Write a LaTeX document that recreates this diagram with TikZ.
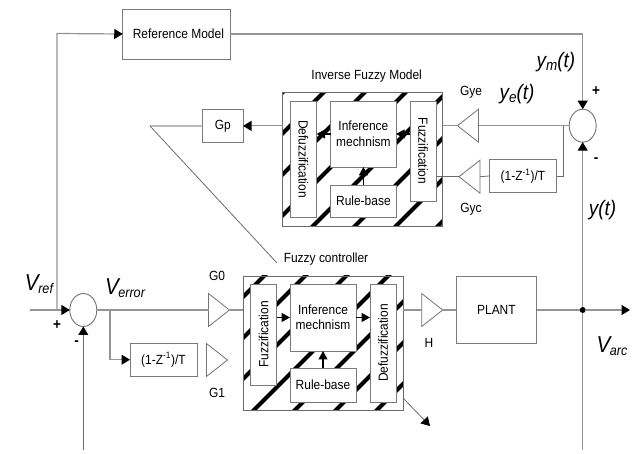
\documentclass[tikz,border=0pt]{standalone}
\usepackage{graphicx}
\usepackage{fontspec}
\setmainfont[FakeStretch=0.9]{Liberation Sans}
\usetikzlibrary{arrows.meta,shapes.geometric,calc}
\newcommand{\VT}[3]{{\fontsize{#3}{#3}\selectfont\itshape #1\kern-0.5pt\raisebox{-3.5pt}{\fontsize{14}{14}\selectfont #2}}}
\tikzset{
  x=1pt,y=-1pt,
  every node/.style={inner sep=0pt,outer sep=0pt},
  txt/.style={font=\fontsize{13.3}{15.5}\selectfont,text=black},
  block/.style={draw=black!52,line width=0.9pt,fill=white,txt,align=center},
  frame/.style={draw=black!58,line width=0.9pt,fill=white},
  sumnode/.style={ellipse,draw=black!55,line width=0.9pt,fill=white,minimum width=27pt,minimum height=33pt},
  gain/.style={isosceles triangle,isosceles triangle apex angle=76,isosceles triangle stretches,draw=black!55,line width=0.8pt,fill=white,minimum width=33pt,minimum height=21pt,anchor=lower side},
  conn/.style={draw=black!42,line width=1.2pt},
  thin conn/.style={draw=black!58,line width=0.8pt},
  tip/.style={-{Triangle[length=8.5pt,width=10pt,fill=black,color=black]}},
  inner arrow/.style={draw=black,line width=1.1pt,-{Triangle[length=8.5pt,width=9pt,fill=black,color=black]}},
  stripe/.style={draw=black,line width=4.2pt},
  bigmath/.style={font=\fontsize{21}{21}\selectfont\itshape},
  sign/.style={font=\fontsize{15}{15}\selectfont\bfseries},
}
\begin{document}
\begin{tikzpicture}
\useasboundingbox (0,0) rectangle (635,454);
% frames and hatching
\node[frame,minimum width=160pt,minimum height=133.4pt] (upper) at (362.7,159.4) {};
\node[frame,minimum width=160pt,minimum height=134pt] (lower) at (323,343) {};
\begin{scope}
\clip (upper.south west) rectangle (upper.north east);
\foreach \s in {375,416,457,498,539,581,622,664,705}
  \draw[stripe] (\s-90,90) -- (\s-230,230);
\end{scope}
\begin{scope}
\clip (lower.south west) rectangle (lower.north east);
\foreach \s in {540,581,622,664,705,746,787}
  \draw[stripe] (\s-270,270) -- (\s-415,415);
\end{scope}
\draw[draw=black!58,line width=0.9pt] (upper.south west) rectangle (upper.north east);
\draw[draw=black!58,line width=0.9pt] (lower.south west) rectangle (lower.north east);
% blocks of the lower frame
\node[block,minimum width=26pt,minimum height=101pt] (fuzL) at (263.7,334.5) {\rotatebox{90}{Fuzzification}};
\node[block,minimum width=66pt,minimum height=67pt] (infL) at (323,317.5) {Inference\\mechnism};
\node[block,minimum width=66pt,minimum height=34pt] (rulL) at (323,385) {Rule-base};
\node[block,minimum width=26pt,minimum height=118pt] (defL) at (383,343) {\rotatebox{90}{Defuzzification}};
% blocks of the upper frame
\node[block,minimum width=26.7pt,minimum height=116pt] (defU) at (303.3,159) {\rotatebox{-90}{Defuzzification}};
\node[block,minimum width=65.3pt,minimum height=66pt] (infU) at (363.4,134) {Inference\\mechnism};
\node[block,minimum width=65.3pt,minimum height=32pt] (rulU) at (363.4,201) {Rule-base};
\node[block,minimum width=26pt,minimum height=100pt] (fuzU) at (423,151) {\rotatebox{-90}{Fuzzification}};
% other blocks
\node[block,minimum width=107.3pt,minimum height=50pt] (refm) at (176.4,34) {\hspace{4pt}Reference Model};
\node[block,minimum width=40.3pt,minimum height=33.6pt] (gp) at (222.9,125.9) {Gp};
\node[block,minimum width=67.7pt,minimum height=33.7pt] (dU) at (522.9,176) {(1-Z\textsuperscript{-1})/T};
\node[block,minimum width=67pt,minimum height=33pt] (dL) at (163.5,359.7) {(1-Z\textsuperscript{-1})/T};
\node[block,minimum width=80.7pt,minimum height=67pt] (plant) at (496.4,309.7) {PLANT};
\node[sumnode] (sumL) at (83.3,310) {};
\node[sumnode] (sumU) at (582.7,125.7) {};
% gains
\node[gain] (g0) at (208.5,310) {};
\node[gain] (g1) at (206.5,360) {};
\node[gain] (h) at (421.7,310) {};
\node[gain,shape border rotate=180] (gye) at (478.5,125.7) {};
\node[gain,shape border rotate=180] (gyc) at (480,176.7) {};
% free ends
\node[circle,fill=black,minimum size=6pt] (dot) at (582.7,310) {};
\coordinate (inL) at (30,310);
\coordinate (tapL) at (57,310);
\coordinate (tapE) at (110,310);
\coordinate (fbL) at (83.3,450);
\coordinate (outR) at (630,310);
\coordinate (downR) at (582.7,450);
\coordinate (tapU) at (563,125.7);
\coordinate (gpEnd) at (150,126);
\coordinate (fcEnd) at (276.7,262.7);
\coordinate (exA) at (403,398);
\coordinate (exB) at (430,426);
% connectors
\draw[conn,tip] (inL) -- (sumL.west);
\draw[conn,tip] (tapL) -- (57,33.5) -- (refm.west);
\draw[thin conn,tip] (fbL) -- (sumL.south);
\draw[conn] (sumL.east) -- (g0.lower side);
\draw[conn,tip] (tapE) |- (dL.west);
\draw[conn] (g0.apex) -- (lower.west |- g0.apex);
\draw[conn] (lower.east |- h.lower side) -- (h.lower side);
\draw[conn] (h.apex) -- (plant.west |- h.apex);
\draw[conn] (plant.east |- dot) -- (dot);
\draw[conn,tip] (dot) -- (outR);
\draw[conn] (dot) -- (downR);
\draw[conn,tip] (dot) -- (sumU.south);
\draw[conn,tip] (refm.east) -| (sumU.north);
\draw[conn] (sumU.west) -- (gye.lower side);
\draw[thin conn] (tapU) |- (dU.east);
\draw[thin conn] (dU.west) -- (gyc.lower side);
\draw[conn] (gye.apex) -- (upper.east |- gye.apex);
\draw[thin conn] (gyc.apex) -- (fuzU.east |- gyc.apex);
\draw[conn,tip] (upper.west |- gp.east) -- (gp.east);
\draw[conn] (gp.west) -- (gpEnd);
\draw[thin conn] (gpEnd) -- (fcEnd);
\draw[thin conn,tip] (exA) -- (exB);
% arrows inside the frames
\draw[inner arrow] (fuzL.east |- infL.west) -- (infL.west);
\draw[inner arrow] (infL.east) -- (defL.west |- infL.east);
\draw[inner arrow] (rulL.north) -- (infL.south);
\draw[inner arrow] (fuzU.west |- infU.east) -- (infU.east);
\draw[inner arrow] (infU.west) -- (defU.east |- infU.west);
\draw[inner arrow] (rulU.north) -- (infU.south);
% labels
\node[txt] (tIFM) at (366.7,76) {Inverse Fuzzy Model};
\node[txt] (tFC) at (326,259) {Fuzzy controller};
\node[txt] (tG0) at (217,276) {G0};
\node[txt] (tG1) at (217,393) {G1};
\node[txt] (tH) at (429,343) {H};
\node[txt] (tGye) at (471,92) {Gye};
\node[txt] (tGyc) at (471,209) {Gyc};
\node (tVref) at (39,284) {\VT{V}{ref}{23}};
\node (tVerr) at (125,288) {\VT{V}{error}{23}};
\node (tVarc) at (612,346) {\VT{V}{arc}{23}};
\node[bigmath] (tym) at (556,62) {y\raisebox{-3.5pt}{\fontsize{15}{15}\selectfont m}(t)};
\node[bigmath] (tye) at (517,94) {y\raisebox{-3.5pt}{\fontsize{15}{15}\selectfont e}(t)};
\node[bigmath] (ty) at (602.5,210) {y(t)};
\node[sign] (pL) at (57,325) {+};
\node[sign] (mL) at (76.5,343) {-};
\node[sign] (pU) at (596,91) {+};
\node[sign] (mU) at (596,160) {-};
\end{tikzpicture}
\end{document}
